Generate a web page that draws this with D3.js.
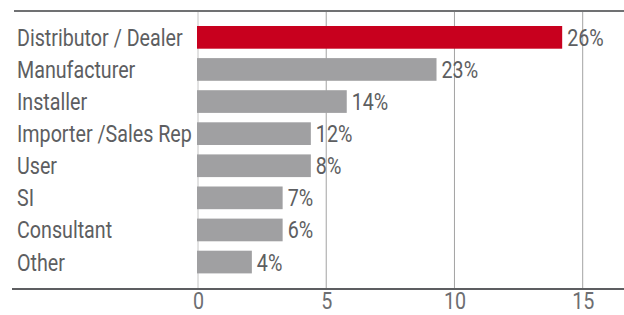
<!DOCTYPE html>
<html><head><meta charset="utf-8">
<script src="https://cdn.jsdelivr.net/npm/d3@7"></script>
<style>
html,body{margin:0;padding:0;background:#fff;}
svg{display:block;}
text{font-family:Roboto,"Liberation Sans",sans-serif;}
</style></head>
<body><svg id="c" width="624" height="315"></svg>
<script>
const categories = ["Distributor / Dealer","Manufacturer","Installer","Importer /Sales Rep","User","SI","Consultant","Other"];
const values = [14.2, 9.3, 5.8, 4.4, 4.4, 3.3, 3.3, 2.1];
const valueLabels = ["26%","23%","14%","12%","8%","7%","6%","4%"];
const xTicks = [0, 5, 10, 15];

const FS = 23;
const svg = d3.select("#c");
// condensed look: measure a reference label and derive the horizontal squeeze
const probe = svg.append("text").attr("font-size", FS).text(categories[0]);
const sx = 165.7 / probe.node().getComputedTextLength();
probe.remove();

const x = d3.scaleLinear().domain([0, 15]).range([198, 582.7]);
const y = d3.scaleBand().domain(categories).range([16.6, 282.8]).paddingInner(0.293).paddingOuter(0.293);

// gridlines
svg.append("g").selectAll("line").data(xTicks).join("line")
  .attr("x1", d => x(d)).attr("x2", d => x(d))
  .attr("y1", 12).attr("y2", 288)
  .attr("stroke", d => d === 0 ? "#c4c4c4" : "#a3a3a3").attr("stroke-width", 1);

// bars
svg.append("g").selectAll("rect").data(values).join("rect")
  .attr("x", x(0) - 1)
  .attr("y", (d, i) => y(categories[i]))
  .attr("width", d => x(d) - x(0) + 1)
  .attr("height", y.bandwidth())
  .attr("fill", (d, i) => i === 0 ? "#c8001e" : "#a0a0a2");

// value labels
svg.append("g").selectAll("text").data(values).join("text")
  .attr("transform", (d, i) => `translate(${x(d) + 5},${y(categories[i]) + y.bandwidth() / 2 + 8.5}) scale(${sx},1)`)
  .attr("fill", "#5d5e61").attr("font-size", FS)
  .text((d, i) => valueLabels[i]);

// category labels
svg.append("g").selectAll("text").data(categories).join("text")
  .attr("transform", d => `translate(17,${y(d) + y.bandwidth() / 2 + 8.5}) scale(${sx},1)`)
  .attr("fill", "#5d5e61").attr("font-size", FS)
  .text(d => d);

// top and bottom rules
svg.append("line").attr("x1", 14).attr("x2", 624).attr("y1", 11).attr("y2", 11)
  .attr("stroke", "#707173").attr("stroke-width", 2);
svg.append("line").attr("x1", 12).attr("x2", 624).attr("y1", 289).attr("y2", 289)
  .attr("stroke", "#5d5e61").attr("stroke-width", 2);

// x axis tick labels
const ax = d3.axisBottom(x).tickValues(xTicks).tickSize(0).tickPadding(0);
const g = svg.append("g").attr("transform", "translate(0,309)").call(ax);
g.select(".domain").remove();
g.selectAll("text").attr("font-size", FS).attr("fill", "#6d6e71")
  .attr("y", 0).attr("dy", 0)
  .attr("transform", `scale(${sx},1)`)
  .style("font-family", 'Roboto,"Liberation Sans",sans-serif');
</script></body></html>
